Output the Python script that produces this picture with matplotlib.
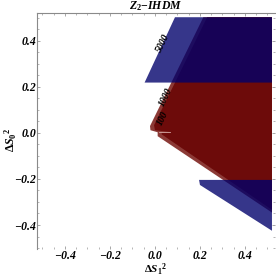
"""Z2-IHDM allowed regions in the (dS1^2, dS0^2) plane, Mathematica-style frame."""

import matplotlib
matplotlib.use("Agg")
import matplotlib.pyplot as plt
from matplotlib.ticker import MultipleLocator

plt.rcParams["font.family"] = ["Liberation Serif", "DejaVu Serif"]
plt.rcParams["mathtext.fontset"] = "custom"
plt.rcParams["mathtext.rm"] = "Liberation Serif:bold"
plt.rcParams["mathtext.it"] = "Liberation Serif:italic:bold"
plt.rcParams["mathtext.bf"] = "Liberation Serif:bold"

# red regions (contours 100 / 1000): lighter outer layer, darker inner layer
red_outer_x = [0.215, 0.52, 0.52, 0.012, 0.012, -0.020, -0.022]
red_outer_y = [0.503, 0.503, -0.346, -0.014, 0.003, 0.012, 0.030]
red_inner_x = [0.232, 0.52, 0.52, 0.030, 0.030, 0.068, 0.000, -0.004]
red_inner_y = [0.503, 0.503, -0.334, -0.006, 0.001, 0.004, 0.012, 0.034]
notch_x = [0.016, 0.066]
notch_y = [0.004, 0.004]

# blue regions (contour 5000)
blue_top_x = [-0.046, 0.089, 0.52, 0.52]
blue_top_y = [0.219, 0.503, 0.503, 0.219]
blue_bot_x = [0.196, 0.52, 0.52, 0.200]
blue_bot_y = [-0.204, -0.204, -0.425, -0.226]

labels = ["5000", "1000", "100"]
label_x = [0.036, 0.048, 0.036]
label_y = [0.391, 0.157, 0.065]

ticks = [-0.4, -0.2, 0.0, 0.2, 0.4]

fig = plt.figure(figsize=(2.76, 2.79), dpi=100)
ax = fig.add_axes([0.135, 0.1086, 0.861, 0.8437])

ax.fill(red_outer_x, red_outer_y, color="#8c3a36", lw=0)
ax.fill(red_inner_x, red_inner_y, color="#6d0b0a", lw=0)
ax.plot(notch_x, notch_y, color="#d6a8a4", lw=0.6)
ax.fill(blue_top_x, blue_top_y, color=(0.0, 0.0, 0.42), alpha=0.79, lw=0)
ax.fill(blue_bot_x, blue_bot_y, color=(0.0, 0.0, 0.42), alpha=0.79, lw=0)

for txt, x, y in zip(labels, label_x, label_y):
    ax.text(x, y, txt, rotation=64, fontsize=7, fontweight="bold",
            fontstyle="italic", ha="center", va="center", color="black")

ax.set_xlim(-0.523, 0.533)
ax.set_ylim(-0.503, 0.520)
ax.set_xticks(ticks)
ax.set_yticks(ticks)
ax.xaxis.set_minor_locator(MultipleLocator(0.05))
ax.yaxis.set_minor_locator(MultipleLocator(0.05))
ax.tick_params(which="both", direction="in", colors="#999999",
               top=True, right=True, labelcolor="black",
               labelsize=8.5, pad=1)
ax.tick_params(which="major", length=2.5, width=0.6)
ax.tick_params(which="minor", length=1.3, width=0.5)
for lab in ax.get_xticklabels() + ax.get_yticklabels():
    lab.set_fontweight("bold")
    lab.set_fontstyle("italic")

for side in ["left", "top"]:
    ax.spines[side].set_color("#8a8a8a")
    ax.spines[side].set_linewidth(0.8)
for side in ["right", "bottom"]:
    ax.spines[side].set_visible(False)

ax.set_title(r"$Z_2{-}IHDM$", fontsize=8.5, pad=1.5)
# axis titles placed in figure coordinates (Mathematica FrameLabel positions)
fig.text(0.562, 0.002, r"$\Delta S_1{}^2$", fontsize=8,
         ha="center", va="bottom")
fig.text(0.040, 0.498, r"$\Delta S_0{}^2$", fontsize=8.5,
         ha="center", va="center", rotation=90)

fig.savefig("out.png", dpi=100)
